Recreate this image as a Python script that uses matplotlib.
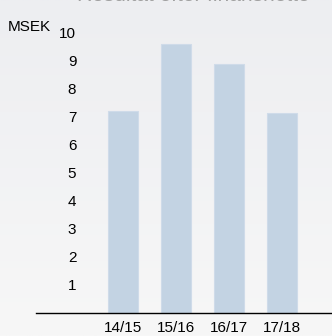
import matplotlib
matplotlib.use('Agg')
import matplotlib.pyplot as plt
import numpy as np

plt.rcParams['font.family'] = ['Liberation Sans', 'DejaVu Sans']

seasons = ['14/15', '15/16', '16/17', '17/18']
result_msek = [7.2, 9.6, 8.9, 7.15]
y_ticks = [1, 2, 3, 4, 5, 6, 7, 8, 9, 10]

W, H = 332, 336
fig = plt.figure(figsize=(W / 100, H / 100), dpi=100)

# light grey gradient background
bg = fig.add_axes([0, 0, 1, 1], zorder=-10)
grad = np.linspace(0, 1, 256).reshape(-1, 1)
bg.imshow(grad, aspect='auto', extent=[0, 1, 0, 1],
          cmap=matplotlib.colors.LinearSegmentedColormap.from_list('g', ['#f7f7f7', '#edeef1']),
          origin='lower')
bg.axis('off')

ax = fig.add_axes([36 / W, (H - 313) / H, (W - 36) / W, 280 / H])
ax.patch.set_alpha(0)

x = np.arange(len(seasons))
ax.bar(x, result_msek, width=0.57, color='#c3d3e3', edgecolor='#cfdbe9', linewidth=0.8)

ax.set_xlim(-1.64, 3.94)
ax.set_ylim(0, 10)

for s in ['top', 'right', 'left']:
    ax.spines[s].set_visible(False)
ax.spines['bottom'].set_color('black')
ax.spines['bottom'].set_linewidth(1.0)

ax.set_xticks(x)
ax.set_xticklabels(seasons, fontsize=11)
ax.tick_params(axis='x', length=0, pad=6)

ax.set_yticks(y_ticks)
ax.set_yticklabels([str(t) for t in y_ticks], fontsize=11)
ax.tick_params(axis='y', length=0, pad=-29)

fig.text(8 / W, 1 - 27 / H, 'MSEK', fontsize=11, ha='left', va='center')

# title sits mostly above the canvas, only its lower edge shows (as in the reference)
fig.text(193 / W, 1 - 1.3 / H, 'Resultat efter finansnetto', fontsize=15,
         color='#a0a0a0', ha='center', va='baseline')

fig.savefig('out.png', dpi=100)
